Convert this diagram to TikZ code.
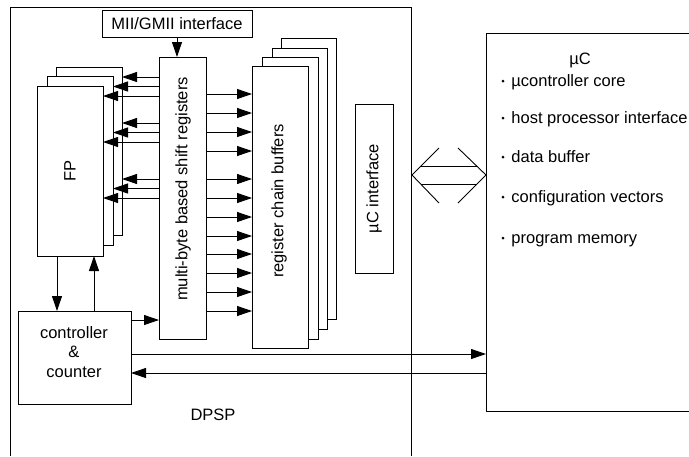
\documentclass[tikz,border=0pt]{standalone}
\usepackage{fontspec}
\setmainfont{Liberation Sans}
\usetikzlibrary{arrows.meta}
\begin{document}
\begin{tikzpicture}[x=1pt,y=-1pt, line width=0.9pt,
  box/.style={draw, fill=white, inner sep=0pt, outer sep=0pt, anchor=north west},
  arr/.style={-{Triangle[length=15pt,width=10pt]}},
  txt/.style={font=\fontsize{16.5}{19.5}\selectfont, inner sep=0pt}]
\useasboundingbox (0,0) rectangle (689,456);
\fill[white] (0,0) rectangle (689,456);
% DPSP frame (open at the bottom)
\draw (10,456) -- (10,7) -- (411,7) -- (411,456);
\node[txt] (dpsp) at (213,415) {DPSP};
% MII/GMII interface
\node[box, txt, minimum width=150, minimum height=27] (mii) at (102,10) {MII/GMII interface};
% shift registers
\node[box, minimum width=47, minimum height=282] (sr) at (159,57) {};
\node[txt, rotate=90] (srt) at (183,189) {multi-byte based shift registers};
\draw[arr] (mii.south) -- (mii.south |- sr.north);
% FP stack
\node[box, minimum width=66, minimum height=168] (fp3) at (56,67) {};
\node[box, minimum width=66, minimum height=169] (fp2) at (47,76) {};
\node[box, minimum width=66, minimum height=170] (fp1) at (37,86) {};
\node[txt, rotate=90] (fpt) at (fp1.center) {FP};
\foreach \y in {77,123,179} {
  \draw[arr] (sr.west |- 0,\y) -- (fp3.east |- 0,\y);
  \draw[arr] (sr.west |- 0,\y+9.5) -- (fp2.east |- 0,\y+9.5);
  \draw[arr] (sr.west |- 0,\y+19) -- (fp1.east |- 0,\y+19);
}
% register chain buffers
\node[box, minimum width=55, minimum height=281] (rb4) at (281,38) {};
\node[box, minimum width=55, minimum height=281] (rb3) at (272,48) {};
\node[box, minimum width=56, minimum height=282] (rb2) at (262,57) {};
\node[box, minimum width=56, minimum height=282] (rb1) at (252,66) {};
\node[txt, rotate=90] (rbt) at (279,201) {register chain buffers};
\foreach \y in {94,113,132,151,179,198,217,236,254,273,292,311}
  \draw[arr] (sr.east |- 0,\y) -- (rb1.west |- 0,\y);
% uC interface
\node[box, minimum width=38, minimum height=169] (uci) at (355,104) {};
\node[txt, rotate=90] (ucit) at (uci.center) {µC interface};
% controller & counter
\node[box, minimum width=113, minimum height=93] (ctl) at (18,311) {};
\node[txt, align=center] (ctlt) at (74,352) {controller\\\&\\counter};
\draw[arr] (57,0 |- fp1.south) -- (57,0 |- ctl.north);
\draw[arr] (94,0 |- ctl.north) -- (94,0 |- fp1.south);
\draw[arr] (ctl.east |- 0,320) -- (sr.west |- 0,320);
% uC block (its right side lies beyond the picture)
\node[inner sep=0pt, outer sep=0pt, minimum width=0pt, minimum height=378, anchor=north] (uc) at (486,33) {};
\draw (uc.north -| 689,0) -- (uc.north) -- (uc.south) -- (uc.south -| 689,0);
\draw[arr] (ctl.east |- 0,354) -- (uc.west |- 0,354);
\draw[arr] (uc.west |- 0,373) -- (ctl.east |- 0,373);
\node[txt] (uct) at (580,60) {µC};
\begin{scope}
\clip (0,0) rectangle (689,456);
\foreach \n/\y/\t in {i1/81/µcontroller core, i2/118/host processor interface, i3/157/data buffer, i4/197/configuration vectors, i5/238/program memory} {
  \node[txt, anchor=base west] (\n) at (511,\y+5) {\t};
  \fill (503,\y) circle (1.5);
}
\end{scope}
% bidirectional hollow arrow
\draw (439,148) -- (412,175) -- (439,203);
\draw (458,148) -- (486,175) -- (458,203);
\draw (421,166) -- (477,166);
\draw (421,184) -- (477,184);
\end{tikzpicture}
\end{document}
